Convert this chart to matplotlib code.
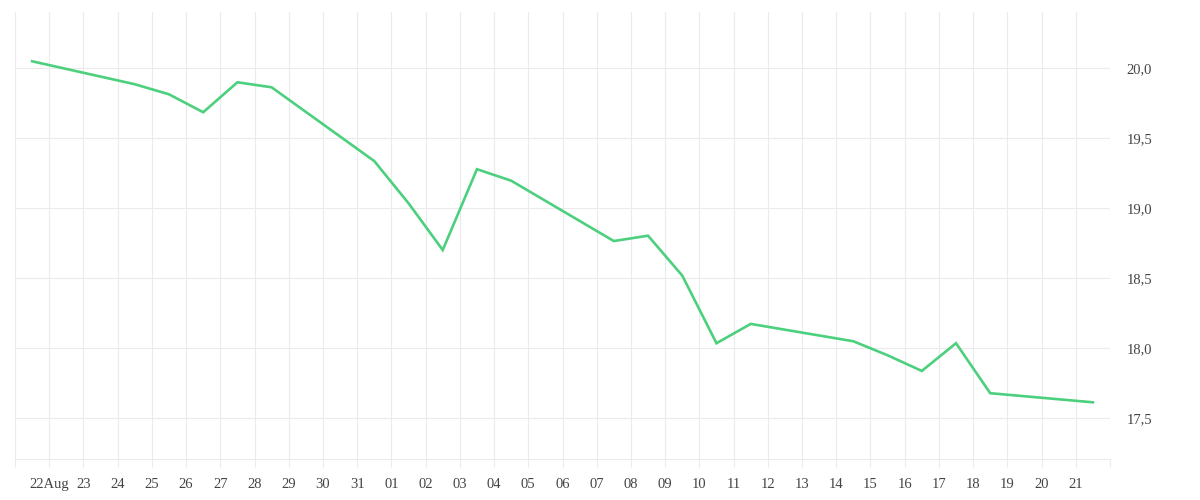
import datetime as dt
import matplotlib
matplotlib.use('Agg')
import matplotlib.pyplot as plt
import matplotlib.dates as mdates
from matplotlib.ticker import FuncFormatter, FixedLocator

# closing values, one per trading day (plotted at noon)
dates = ['2020-08-21', '2020-08-24', '2020-08-25', '2020-08-26', '2020-08-27',
         '2020-08-28', '2020-08-31', '2020-09-01', '2020-09-02', '2020-09-03',
         '2020-09-04', '2020-09-07', '2020-09-08', '2020-09-09', '2020-09-10',
         '2020-09-11', '2020-09-14', '2020-09-15', '2020-09-16', '2020-09-17',
         '2020-09-18', '2020-09-21']
values = [20.05, 19.886, 19.814, 19.686, 19.90,
          19.864, 19.337, 19.036, 18.702, 19.279,
          19.197, 18.766, 18.804, 18.519, 18.036,
          18.174, 18.05, 17.95, 17.838, 18.036,
          17.679, 17.614]

yticks = [17.5, 18.0, 18.5, 19.0, 19.5, 20.0]

grid_col = '#ebebeb'
text_col = '#444444'
line_col = '#4cd07d'

plt.rcParams['font.family'] = ['Liberation Serif', 'DejaVu Serif']

x = [dt.datetime.strptime(d, '%Y-%m-%d') + dt.timedelta(hours=12) for d in dates]

fig = plt.figure(figsize=(12, 5), dpi=100)
ax = fig.add_axes([15 / 1200, 41 / 500, 1095 / 1200, 447 / 500])

ax.plot(x, values, color=line_col, linewidth=1.9, solid_joinstyle='miter')

start = dt.datetime(2020, 8, 21)
end = dt.datetime(2020, 9, 22)
ax.set_xlim(start, end)
ax.set_ylim(17.209, 20.402)

# one tick per day, label only the inner ones
days = [start + dt.timedelta(days=i) for i in range((end - start).days + 1)]
ax.xaxis.set_major_locator(FixedLocator(mdates.date2num(days)))
labels = []
for i, d in enumerate(days):
    if i == 0 or i == len(days) - 1:
        labels.append('')
    elif i == 1:
        labels.append(d.strftime('%d%b'))
    else:
        labels.append(d.strftime('%d'))
ax.set_xticklabels(labels)

ax.yaxis.tick_right()
ax.set_yticks(yticks)
ax.yaxis.set_major_formatter(FuncFormatter(lambda v, p: f'{v:.1f}'.replace('.', ',')))
for t in ax.get_yticklabels():
    t.set_va('center_baseline')

ax.grid(True, color=grid_col, linewidth=0.8)
ax.set_axisbelow(True)
for s in ['top', 'left', 'right']:
    ax.spines[s].set_visible(False)
ax.spines['bottom'].set_color(grid_col)
ax.spines['bottom'].set_linewidth(0.8)

ax.tick_params(axis='x', colors=grid_col, length=6, width=0.8, pad=7.5,
               labelcolor=text_col, labelsize=10.5)
ax.tick_params(axis='y', length=0, pad=12, labelcolor=text_col, labelsize=10.5)

fig.savefig('out.png', dpi=100, facecolor='white')
